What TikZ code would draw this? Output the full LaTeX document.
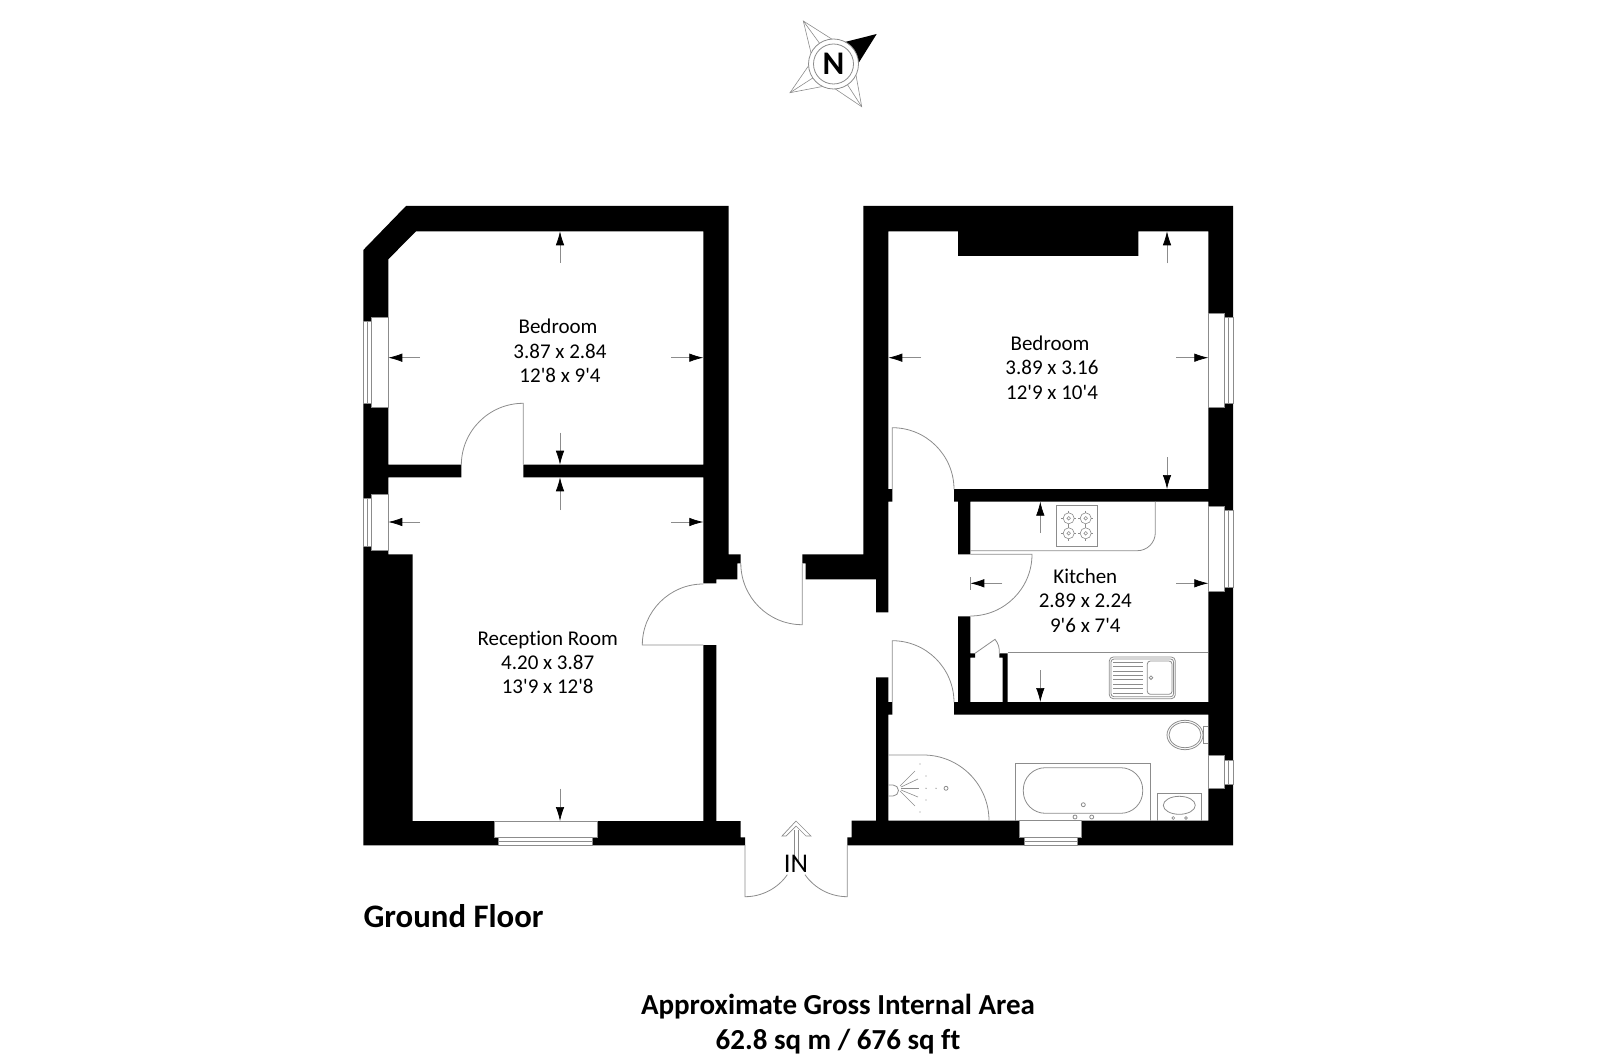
\documentclass[tikz,border=0pt]{standalone}
\usepackage{fontspec}
\setmainfont[Ligatures=NoCommon]{Carlito}
\usetikzlibrary{calc}
\usetikzlibrary{arrows.meta}
\definecolor{ln}{rgb}{.55,.55,.55}
\tikzstyle{wall}=[fill=black,draw=none]
\tikzstyle{thin}=[draw=ln,line width=.8pt]
\tikzstyle{dim}=[draw=ln,line width=.7pt,-{Latex[length=14pt,width=8.5pt,black]}]
\tikzstyle{room}=[align=center,inner sep=0pt,font=\fontsize{21}{24.4}\selectfont]
\begin{document}
\begin{tikzpicture}[x=1pt,y=-1pt]
	\useasboundingbox (0,0) rectangle (1600,1064);
	% walls
	\fill[wall] (406,206) -- (728.7,206) -- (728.7,554.3) -- (740.7,554.3) -- (740.7,563.3) -- (737.3,563.3) -- (737.3,579.3) -- (716.3,579.3) -- (716.3,583.3) -- (703.3,583.3) -- (703.3,477.3) -- (523.3,477.3) -- (523.3,464.7) -- (703.3,464.7) -- (703.3,231.3) -- (416,231.3) -- (388.3,259.3) -- (388.3,317.3) -- (371.7,317.3) -- (371.7,321.3) -- (363.3,321.3) -- (363.3,250) -- cycle;
	\fill[wall] (363.3,403.3) -- (371.7,403.3) -- (371.7,407.3) -- (388.3,407.3) -- (388.3,464.7) -- (461.3,464.7) -- (461.3,477.3) -- (388.3,477.3) -- (388.3,494) -- (371.7,494) -- (371.7,498) -- (363.3,498) -- cycle;
	\fill[wall] (363.3,546) -- (371.7,546) -- (371.7,550) -- (388.3,550) -- (388.3,554.3) -- (412.7,554.3) -- (412.7,821) -- (494.7,821) -- (494.7,837.7) -- (498.3,837.7) -- (498.3,845.3) -- (363.3,845.3) -- cycle;
	\fill[wall] (597,821) -- (703.3,821) -- (703.3,645) -- (716.3,645) -- (716.3,821) -- (740.7,821) -- (740.7,837.3) -- (745,837.3) -- (745,845.3) -- (592.7,845.3) -- (592.7,837.7) -- (597,837.7) -- cycle;
	\fill[wall] (863.3,206) -- (1233,206) -- (1233,317.3) -- (1224.7,317.3) -- (1224.7,313.7) -- (1208.3,313.7) -- (1208.3,231.3) -- (1138.3,231.3) -- (1138.3,256) -- (958,256) -- (958,231.3) -- (888.3,231.3) -- (888.3,489) -- (892.3,489) -- (892.3,501.7) -- (888.3,501.7) -- (888.3,612.3) -- (876,612.3) -- (876,579.3) -- (805.7,579.3) -- (805.7,563.3) -- (802.3,563.3) -- (802.3,554.3) -- (863.3,554.3) -- cycle;
	\fill[wall] (954,489) -- (1208.3,489) -- (1208.3,407.7) -- (1224.7,407.7) -- (1224.7,403.3) -- (1233,403.3) -- (1233,510.3) -- (1224.7,510.3) -- (1224.7,506.7) -- (1208.3,506.7) -- (1208.3,501.7) -- (970.3,501.7) -- (970.3,554.3) -- (958,554.3) -- (958,501.7) -- (954,501.7) -- cycle;
	\fill[wall] (958,616.3) -- (970.3,616.3) -- (970.3,653.3) -- (975,653.3) -- (975,657.7) -- (970.3,657.7) -- (970.3,702) -- (1002.7,702) -- (1002.7,657.7) -- (999.3,657.7) -- (999.3,653.3) -- (1007.7,653.3) -- (1007.7,702) -- (1208.3,702) -- (1208.3,591.7) -- (1224.7,591.7) -- (1224.7,587.7) -- (1233,587.7) -- (1233,760) -- (1224.7,760) -- (1224.7,755.7) -- (1208.3,755.7) -- (1208.3,714.7) -- (954,714.7) -- (954,702) -- (958,702) -- cycle;
	\fill[wall] (1208.3,788.3) -- (1224.7,788.3) -- (1224.7,784) -- (1233,784) -- (1233,845.3) -- (1077,845.3) -- (1077,837.3) -- (1081.7,837.3) -- (1081.7,820.7) -- (1208.3,820.7) -- cycle;
	\fill[wall] (851.7,820.7) -- (876,820.7) -- (876,677.3) -- (888.3,677.3) -- (888.3,702) -- (892.3,702) -- (892.3,714.7) -- (888.3,714.7) -- (888.3,820.7) -- (1019.3,820.7) -- (1019.3,837.3) -- (1024,837.3) -- (1024,845.3) -- (847.3,845.3) -- (847.3,837.3) -- (851.7,837.3) -- cycle;
	% windows
	\foreach \xa/\ya/\xb/\yb in {371.7/317.3/388.3/407.3, 363.3/321.3/371.7/403.3, 371.7/494/388.3/550, 363.3/498/371.7/546, 1208.3/313.7/1224.7/407.7, 1224.7/317.3/1233/403.3, 1208.3/506.7/1224.7/591.7, 1224.7/510.3/1233/587.7, 1208.3/755.7/1224.7/788.3, 1224.7/760/1233/784}
		\draw[thin] (\xa,\ya) rectangle (\xb,\yb);
	\foreach \xa/\ya/\xb/\yb in {494.7/821/597/837.7, 498.3/837.7/592.7/845.3, 1019.3/820.7/1081.7/837.3, 1024/837.3/1077/845.3}
		\draw[thin] (\xa,\ya) rectangle (\xb,\yb);
	\foreach \x/\ya/\yb in {367.5/321.3/403.3, 367.5/498/546, 1228.8/317.3/403.3, 1228.8/510.3/587.7, 1228.8/760/784}
		\draw[thin] (\x,\ya) -- (\x,\yb);
	\foreach \y/\xa/\xb in {841.5/498.3/592.7, 841.2/1024/1077}
		\draw[thin] (\xa,\y) -- (\xb,\y);
	% doors
	\draw[thin] (523.3,464.7) -- (523.3,403.3) arc[start angle=270,end angle=180,radius=62];
	\draw[thin] (892.3,489) -- (892.3,427.7) arc[start angle=270,end angle=360,radius=61.7];
	\draw[thin] (970.3,554.3) -- (1032,554.3) arc[start angle=0,end angle=90,radius=61.7];
	\draw[thin] (892.3,702) -- (892.3,640.7) arc[start angle=270,end angle=360,radius=61.7];
	\draw[thin] (703.3,645) -- (642.3,645) arc[start angle=180,end angle=270,radius=61];
	\draw[thin] (802.3,563.3) -- (802.3,624.7) arc[start angle=90,end angle=180,radius=61.5];
	\draw[thin] (745,845) -- (745,896.7) arc[start angle=90,end angle=35,radius=51.7];
	\draw[thin] (847.3,845) -- (847.3,896.7) arc[start angle=90,end angle=145,radius=51.7];
	\draw[thin] (975,653.3) -- (995,639.3) to[bend left=20] (999.3,653.3);
	% dimension arrows
	\foreach \xa/\ya/\xb/\yb in {560/262.7/560/231.3, 420/357.7/388.3/357.7, 671/357.7/703.3/357.7, 560/432.7/560/464.7, 560/510/560/477.3, 420/522/388.3/522, 671/522/703.3/522, 560/788.7/560/821, 1167/263.3/1167/231.3, 921/357.7/888.3/357.7, 1176/357.7/1208.3/357.7, 1167/457.3/1167/489, 1040.3/533/1040.3/501.7, 1002.3/583.3/970.3/583.3, 1176/583.3/1208.3/583.3, 1040.3/670/1040.3/702}
		\draw[dim] (\xa,\ya) -- (\xb,\yb);
	\draw[thin] (970.3,577) -- (970.3,590);
	% kitchen
	\draw[thin,rounded corners=18pt] (970.3,550.7) -| (1155.3,501.7);
	\draw[thin] (1007.7,652.7) -- (1208.3,652.7);
	\draw[thin] (1056.3,505.7) rectangle (1097.7,546.7);
	\foreach \x/\y in {1068.7/518.3, 1085.7/518.3, 1068.7/533.3, 1085.7/533.3} {
		\draw[thin,line width=.6pt] (\x,\y) circle (5.5) (\x,\y) circle (1.8);
		\draw[thin,line width=.6pt] (\x-7.5,\y) -- (\x-5.5,\y) (\x+5.5,\y) -- (\x+7.5,\y) (\x,\y-7.5) -- (\x,\y-5.5) (\x,\y+5.5) -- (\x,\y+7.5);
	}
	\draw[thin,rounded corners=4pt] (1109.3,657) rectangle (1175.3,698.7);
	\draw[thin,rounded corners=3pt] (1111,659) rectangle (1173.6,696.7);
	\draw[thin,rounded corners=3pt] (1147.3,661) rectangle (1172,694.3);
	\draw[thin] (1151,677.7) circle (1.8);
	\foreach \y in {662,666.4,...,693}
		\draw[thin,line width=.6pt] (1113.3,\y) -- (1142.7,\y);
	% bathroom
	\draw[thin] (888.3,755) -- (923.3,755) arc[start angle=270,end angle=360,radius=65.7];
	\draw[thin] (1015.7,820.7) -- (1015.7,763.7) -- (1150.7,763.7) -- (1150.7,820.7);
	\draw[thin,rounded corners=22pt] (1023.3,767.7) rectangle (1142.7,813.3);
	\foreach \x/\y in {1083.3/804.7, 1075/817, 1091.7/817, 946/788.3}
		\draw[thin] (\x,\y) circle (2);
	\draw[thin] (1157.7,820.7) -- (1157.7,793.3) -- (1201.7,793.3) -- (1201.7,820.7);
	\draw[thin] (1179.3,805.3) ellipse (16 and 9);
	\foreach \x in {1173.3,1186}
		\draw[thin,line width=.6pt] (\x,818) circle (1.4);
	\draw[thin] (1185,735) ellipse (18 and 14.7);
	\draw[thin] (1185,735) ellipse (16 and 12.7);
	\draw[thin] (1208.3,726.7) -- (1203,726.7) -- (1203,743.5) -- (1208.3,743.5);
	\draw[thin] (888.3,785) -- (893,785) arc[start angle=270,end angle=450,radius=5.5] -- (888.3,796);
	\foreach \xa/\ya/\xb/\yb in {900/786/915/771, 901/787/918/779, 901/788.3/919/788.3, 901/790/918/797, 900/791/915/806}
		\draw[thin,line width=.6pt] (\xa,\ya) -- (\xb,\yb);
	\foreach \x/\y in {920/764, 926/776, 926/788.3, 936/788.3, 926/800, 920/812}
		\fill[ln] (\x,\y) circle (.7);
	% entrance arrow
	\draw[thin,line width=.7pt] (782,836) -- (796,821) -- (811,836) -- (806,836) -- (796,826) -- (786,836) -- cycle;
	\draw[thin,line width=.7pt] (794.3,830) -- (794.3,862) (798,830) -- (798,862);
	% labels
	\node[room] (bed1) at (560,351) {Bedroom\hspace*{4pt}\\3.87 x 2.84\\12\textquotesingle 8 x 9\textquotesingle 4};
	\node[room] (bed2) at (1052,367.7) {Bedroom\hspace*{4pt}\\3.89 x 3.16\\12\textquotesingle 9 x 10\textquotesingle 4};
	\node[room] (kit) at (1085.3,600.7) {Kitchen\\2.89 x 2.24\\9\textquotesingle 6 x 7\textquotesingle 4};
	\node[room] (rec) at (547.7,662.3) {Reception Room\\4.20 x 3.87\\13\textquotesingle 9 x 12\textquotesingle 8};
	\node[inner sep=0pt,font=\fontsize{27}{27}\selectfont] (inl) at (796,864) {IN};
	\node[anchor=west,inner sep=0pt,font=\bfseries\fontsize{32.8}{36}\selectfont] (grnd) at (363.3,916) {Ground Floor};
	\node[align=center,inner sep=0pt,font=\bfseries\fontsize{29}{35}\selectfont] (area) at (838,1024) {Approximate Gross Internal Area\\62.8 sq m / 676 sq ft};
	% compass
	\coordinate (cp) at (833.5,64);
	\foreach \a/\x/\y in {-124/803.3/21, 146/790/92.7, 56/861.7/106.7} {
		\coordinate (tp) at (\x,\y);
		\draw[thin,line width=.6pt] ($(cp)+(\a-30:25)$) -- (tp) -- ($(cp)+(\a+30:25)$);
		\draw[thin,line width=.6pt] ($(cp)+(\a:25)$) -- (tp);
	}
	\fill[black] ($(cp)+(-62:25)$) -- (876.7,34) -- ($(cp)+(-2:25)$) -- (cp) -- cycle;
	\draw[thin,fill=white] (cp) circle (25);
	\draw[thin] (cp) circle (20);
	\node[inner sep=0pt,font=\bfseries\fontsize{33}{33}\selectfont] (nth) at (cp) {N};
\end{tikzpicture}
\end{document}
